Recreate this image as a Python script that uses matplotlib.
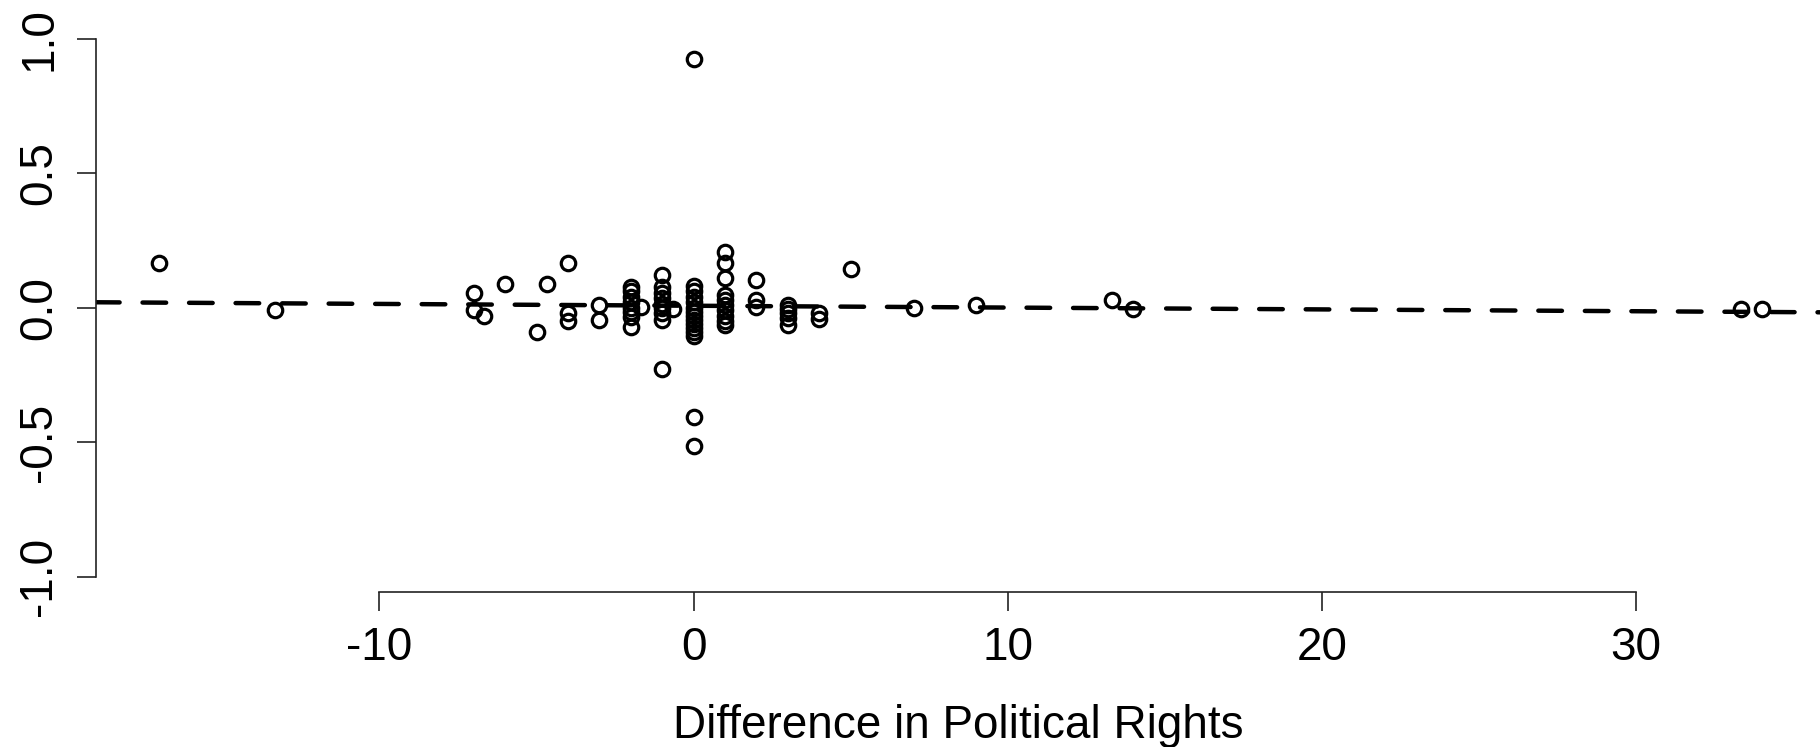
import matplotlib
matplotlib.use("Agg")
import matplotlib.pyplot as plt
import numpy as np

# values
pr_diff = [-17, -13.33,
           -7, -7, -6.67, -6, -5, -4.67, -4, -4, -4, -3, -3,
           -2, -2, -2, -2, -2, -2, -2, -2, -1.67,
           -1, -1, -1, -1, -1, -1, -1, -1, -1, -0.67,
           0, 0, 0, 0, 0, 0, 0, 0, 0, 0, 0, 0, 0, 0, 0,
           1, 1, 1, 1, 1, 1, 1, 1, 1, 1,
           2, 2, 2, 3, 3, 3, 3, 3, 4, 4, 5,
           7, 9, 13.33, 14, 33.33, 34]
effect = [0.165, -0.007,
          0.053, -0.009, -0.031, 0.087, -0.089, 0.087, 0.165, -0.021, -0.049, 0.010, -0.046,
          0.078, 0.060, 0.040, 0.020, 0.000, -0.015, -0.035, -0.071, 0.004,
          0.122, 0.075, 0.055, 0.035, 0.015, 0.000, -0.020, -0.045, -0.230, -0.005,
          0.923, 0.079, 0.060, 0.040, 0.020, 0.000, -0.015, -0.030, -0.045, -0.060,
          -0.075, -0.090, -0.107, -0.405, -0.513,
          0.208, 0.165, 0.109, 0.047, 0.030, 0.010, -0.010, -0.030, -0.050, -0.064,
          0.103, 0.029, 0.004, 0.010, -0.005, -0.020, -0.040, -0.064, -0.020, -0.043, 0.144,
          0.000, 0.010, 0.028, -0.006, -0.005, -0.005]

# fitted line (intercept, slope)
fit_intercept = 0.007
fit_slope = -0.00068

x_ticks = [-10, 0, 10, 20, 30]
y_ticks = [-1.0, -0.5, 0.0, 0.5, 1.0]

plt.rcParams['font.family'] = ['Liberation Sans', 'DejaVu Sans']
plt.rcParams['axes.unicode_minus'] = False
plt.rcParams['lines.scale_dashes'] = False

W, H = 1820, 747
fig = plt.figure(figsize=(W / 100, H / 100), dpi=100)
ax = fig.add_axes([96 / W, 155.3 / H, (W - 96) / W, 574.6 / H])

ax.plot(pr_diff, effect, linestyle='none', marker='o', markersize=10.4,
        markerfacecolor='none', markeredgecolor='black', markeredgewidth=2.3)

ax.set_xlim(-19.02, 35.85)
ax.set_ylim(-1.056, 1.08)

xl = np.array(ax.get_xlim())
ax.plot(xl, fit_intercept + fit_slope * xl, color='black', lw=3.2,
        dashes=(17, 16.5), dash_capstyle='round')

for s in ['top', 'right']:
    ax.spines[s].set_visible(False)
ax.spines['left'].set_bounds(-1, 1)
ax.spines['bottom'].set_bounds(-10, 30)
for s in ['left', 'bottom']:
    ax.spines[s].set_linewidth(1.2)
    ax.spines[s].set_color('#222222')

ax.set_xticks(x_ticks)
ax.set_xticklabels([str(t) for t in x_ticks])
ax.set_yticks(y_ticks)
ax.set_yticklabels(['%.1f' % t for t in y_ticks], rotation=90, va='center')
ax.tick_params(axis='both', length=14, width=1.2, color='#222222',
               labelsize=33)
ax.tick_params(axis='x', pad=11)
ax.tick_params(axis='y', pad=11)

ax.set_xlabel('Difference in Political Rights', fontsize=33, labelpad=24)

fig.savefig('out.png', dpi=100)
